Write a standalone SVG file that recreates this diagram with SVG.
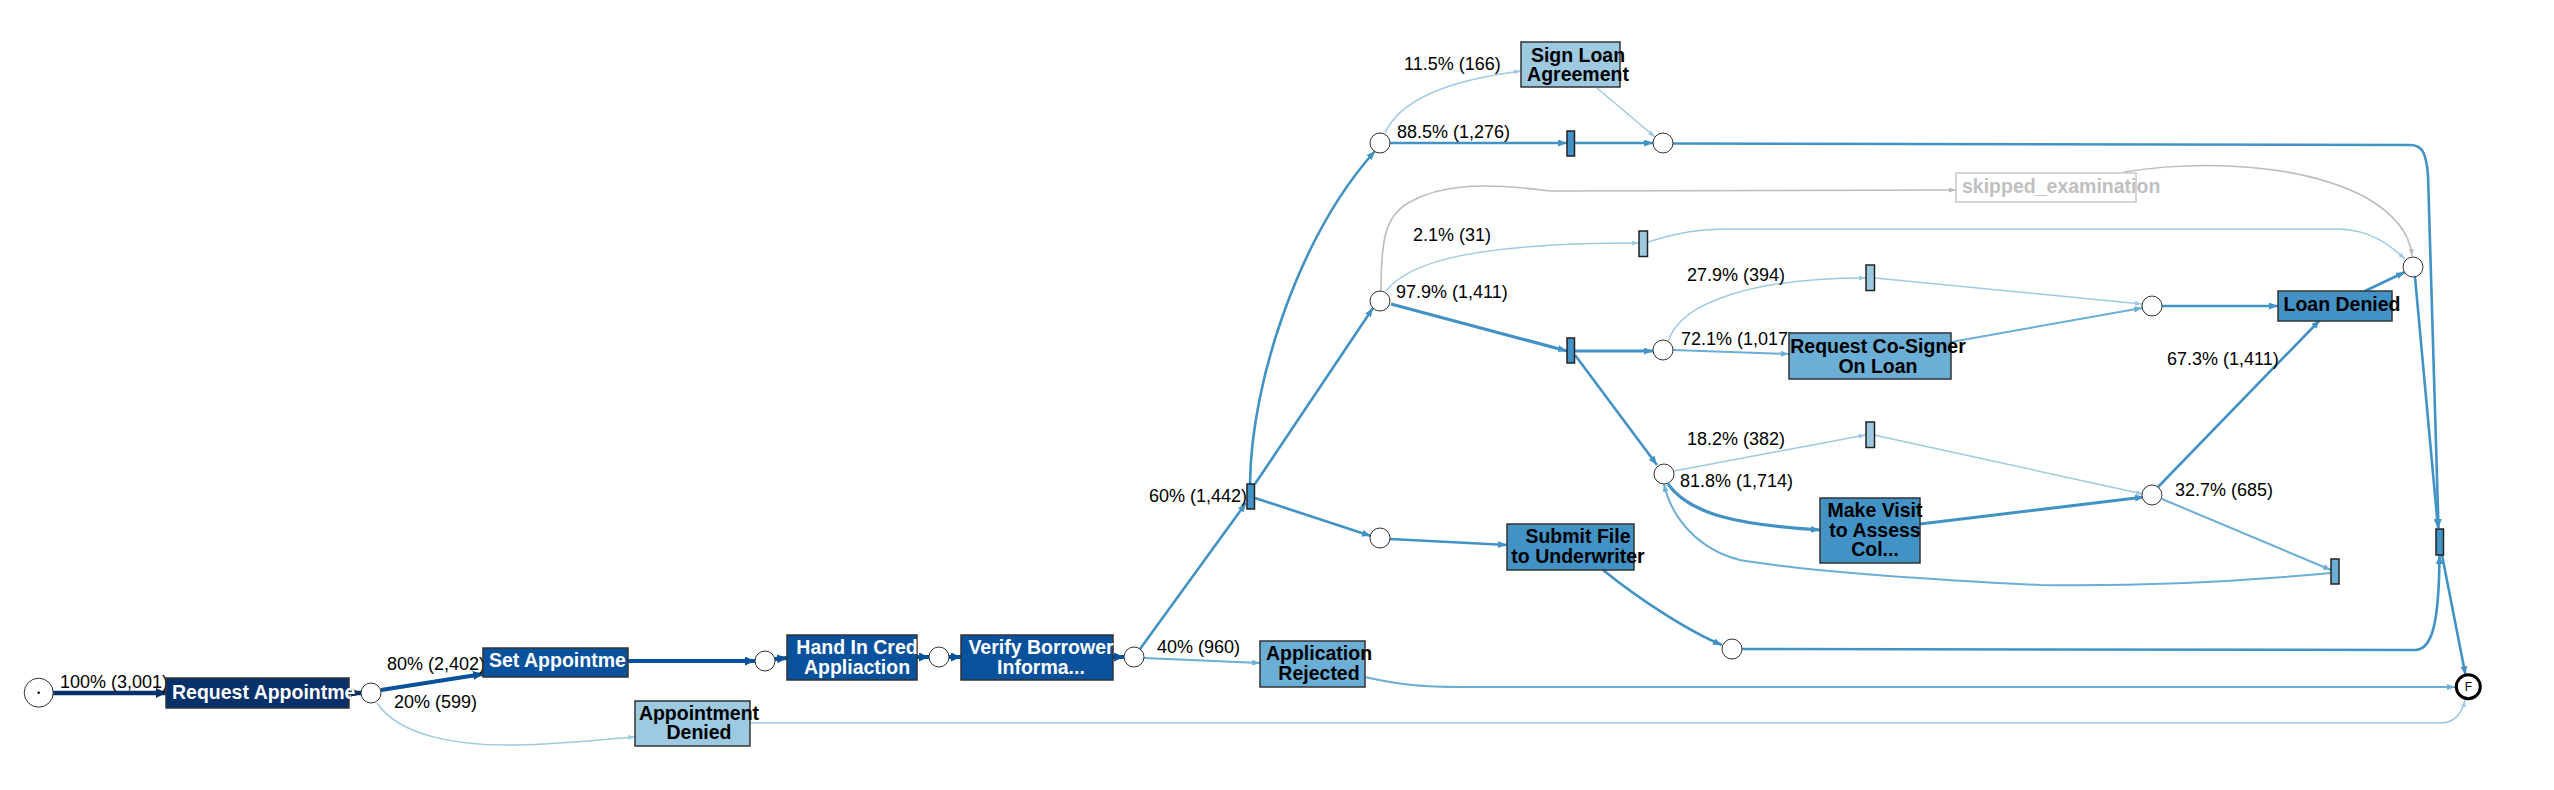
<svg xmlns="http://www.w3.org/2000/svg" width="2554" height="790" viewBox="0 0 2554 790">
<style>
.bg{fill:#fff}
.e{fill:none;stroke-linecap:butt}
.navy{stroke:#08306b;stroke-width:4.5}
.dark{stroke:#08519c;stroke-width:4}
.blue{stroke:#4292c6;stroke-width:2.6}
.blue3{stroke:#4292c6;stroke-width:3.2}
.med{stroke:#6baed6;stroke-width:2}
.light{stroke:#9ecae1;stroke-width:1.5}
.gray{stroke:#bdbdbd;stroke-width:1.6}
.box{stroke:#333;stroke-width:1.5}
.tr{stroke:#222;stroke-width:1.5}
.pl{fill:#fff;stroke:#333;stroke-width:1}
.nt{font-family:"Liberation Sans",Arial,Helvetica,sans-serif;font-weight:bold;font-size:19.5px;text-anchor:middle}
.w{fill:#fff}
.k{fill:#000}
.lbl{font-family:"Liberation Sans",Arial,Helvetica,sans-serif;font-size:18px;fill:#000}
</style>
<defs>
<marker id="aNavy" viewBox="0 0 10 10" refX="10" refY="5" markerWidth="10" markerHeight="10" markerUnits="userSpaceOnUse" orient="auto"><path d="M0,0 L10,5 L0,10 z" fill="#08306b"/></marker>
<marker id="aDark" viewBox="0 0 10 9" refX="10" refY="4.5" markerWidth="10" markerHeight="9" markerUnits="userSpaceOnUse" orient="auto"><path d="M0,0 L10,4.5 L0,9 z" fill="#08519c"/></marker>
<marker id="aBlue" viewBox="0 0 9 7" refX="9" refY="3.5" markerWidth="9" markerHeight="7" markerUnits="userSpaceOnUse" orient="auto"><path d="M0,0 L9,3.5 L0,7 z" fill="#4292c6"/></marker>
<marker id="aMed" viewBox="0 0 8 6" refX="8" refY="3" markerWidth="8" markerHeight="6" markerUnits="userSpaceOnUse" orient="auto"><path d="M0,0 L8,3 L0,6 z" fill="#6baed6"/></marker>
<marker id="aLight" viewBox="0 0 7 5" refX="7" refY="2.5" markerWidth="7" markerHeight="5" markerUnits="userSpaceOnUse" orient="auto"><path d="M0,0 L7,2.5 L0,5 z" fill="#9ecae1"/></marker>
<marker id="aGray" viewBox="0 0 7 5" refX="7" refY="2.5" markerWidth="7" markerHeight="5" markerUnits="userSpaceOnUse" orient="auto"><path d="M0,0 L7,2.5 L0,5 z" fill="#bdbdbd"/></marker>
</defs>
<rect class="bg" x="0" y="0" width="2554" height="790"/>

<g id="connectors">
<path class="e navy" d="M53,693 L166,693" marker-end="url(#aNavy)"/>
<path class="e navy" d="M349,693 L361,693" marker-end="url(#aNavy)"/>
<path class="e dark" d="M381,690 L483,674" marker-end="url(#aDark)"/>
<path class="e light" d="M377,703 C400,737 460,746 515,745 C565,744 605,739 635,737" marker-end="url(#aLight)"/>
<path class="e dark" d="M628,661 L755,661" marker-end="url(#aDark)"/>
<path class="e dark" d="M775,659 L787,658" marker-end="url(#aDark)"/>
<path class="e dark" d="M917,657 L929,657" marker-end="url(#aDark)"/>
<path class="e dark" d="M949,657 L961,657" marker-end="url(#aDark)"/>
<path class="e dark" d="M1113,657 L1124,657" marker-end="url(#aDark)"/>
<path class="e blue" d="M1140,649 L1246,503" marker-end="url(#aBlue)"/>
<path class="e med" d="M1144,658 L1260,663" marker-end="url(#aMed)"/>
<path class="e med" d="M1365,677 C1400,685 1425,687 1460,687 L2455,687" marker-end="url(#aMed)"/>
<path class="e light" d="M750,723 L2440,723 C2455,723 2462,713 2465,700" marker-end="url(#aLight)"/>
<path class="e blue" d="M1250,484 C1251,380 1300,235 1375,151" marker-end="url(#aBlue)"/>
<path class="e blue" d="M1255,484 L1373,308" marker-end="url(#aBlue)"/>
<path class="e blue" d="M1255,498 L1371,536" marker-end="url(#aBlue)"/>
<path class="e blue" d="M1390,539 L1507,545" marker-end="url(#aBlue)"/>
<path class="e blue" d="M1603,570 C1640,600 1690,632 1722,645" marker-end="url(#aBlue)"/>
<path class="e blue" d="M1742,649 L2415,650 C2433,650 2439,620 2439.5,555" marker-end="url(#aBlue)"/>
<path class="e blue" d="M2442,555 L2465.5,675" marker-end="url(#aBlue)"/>
<path class="e blue" d="M1390,143 L1567,143" marker-end="url(#aBlue)"/>
<path class="e blue" d="M1574,143 L1653,143" marker-end="url(#aBlue)"/>
<path class="e light" d="M1385,133 C1400,100 1450,80 1521,71" marker-end="url(#aLight)"/>
<path class="e light" d="M1597,88 L1655,137" marker-end="url(#aLight)"/>
<path class="e blue" d="M1673,143.5 L2410,145 C2422,145 2426,152 2428,175 L2438.5,528" marker-end="url(#aBlue)"/>
<path class="e gray" d="M1381,291 C1381,240 1385,215 1410,202 C1440,185 1480,182 1550,191 L1956,190" marker-end="url(#aGray)"/>
<path class="e gray" d="M2124,172 C2200,160 2300,163 2365,197 C2395,214 2410,235 2412,256" marker-end="url(#aGray)"/>
<path class="e light" d="M1386,291 C1410,260 1480,243 1639,243" marker-end="url(#aLight)"/>
<path class="e light" d="M1648,242 C1680,232 1700,229 1730,229 L2340,229 C2370,230 2390,245 2405,259" marker-end="url(#aLight)"/>
<path class="e blue3" d="M1391,304 L1567,351" marker-end="url(#aBlue)"/>
<path class="e blue3" d="M1575,351 L1653,351" marker-end="url(#aBlue)"/>
<path class="e blue" d="M1575,355 L1657,465" marker-end="url(#aBlue)"/>
<path class="e light" d="M1668,342 C1680,300 1760,278 1866,278" marker-end="url(#aLight)"/>
<path class="e light" d="M1875,278 L2142,304" marker-end="url(#aLight)"/>
<path class="e med" d="M1673,350 L1789,354" marker-end="url(#aMed)"/>
<path class="e med" d="M1951,342 L2142,308" marker-end="url(#aMed)"/>
<path class="e blue" d="M2162,306 L2278,306" marker-end="url(#aBlue)"/>
<path class="e blue" d="M2365,291 L2405,272" marker-end="url(#aBlue)"/>
<path class="e blue" d="M2415,277 L2438,528" marker-end="url(#aBlue)"/>
<path class="e light" d="M1674,471 L1865.5,435" marker-end="url(#aLight)"/>
<path class="e light" d="M1874,435 L2143,494" marker-end="url(#aLight)"/>
<path class="e blue3" d="M1668,484 C1690,515 1740,525 1820,530" marker-end="url(#aBlue)"/>
<path class="e blue3" d="M1920,524 L2144,497" marker-end="url(#aBlue)"/>
<path class="e blue" d="M2158,487 L2320,320" marker-end="url(#aBlue)"/>
<path class="e med" d="M2162,499 L2331,570" marker-end="url(#aMed)"/>
<path class="e med" d="M2331,573 C2200,585 2100,586 2040,585 C1900,578 1800,570 1740,560 C1700,550 1672,520 1664,484" marker-end="url(#aMed)"/>
</g>

<g id="edge-labels">
<text class="lbl" x="60" y="688">100% (3,001)</text>
<text class="lbl" x="387" y="670">80% (2,402)</text>
<text class="lbl" x="394" y="708">20% (599)</text>
<text class="lbl" x="1157" y="653">40% (960)</text>
<text class="lbl" x="1247" y="502" text-anchor="end">60% (1,442)</text>
<text class="lbl" x="1404" y="70">11.5% (166)</text>
<text class="lbl" x="1397" y="138">88.5% (1,276)</text>
<text class="lbl" x="1413" y="241">2.1% (31)</text>
<text class="lbl" x="1396" y="298">97.9% (1,411)</text>
<text class="lbl" x="1687" y="281">27.9% (394)</text>
<text class="lbl" x="1681" y="345">72.1% (1,017)</text>
<text class="lbl" x="1687" y="445">18.2% (382)</text>
<text class="lbl" x="1680" y="487">81.8% (1,714)</text>
<text class="lbl" x="2167" y="365">67.3% (1,411)</text>
<text class="lbl" x="2175" y="496">32.7% (685)</text>
</g>

<g id="start"><circle class="pl" cx="38.7" cy="692.7" r="14.5"/><circle cx="38.7" cy="692.7" r="1.2" fill="#000"/></g>
<g id="end"><circle cx="2468.3" cy="686.7" r="12" fill="#fff" stroke="#000" stroke-width="3"/><text x="2468.3" y="691" font-family="Liberation Sans, Arial, sans-serif" font-size="12" text-anchor="middle" fill="#000">F</text></g>

<g id="places">
<circle id="p1" class="pl" cx="371" cy="693" r="10"/>
<circle id="p2" class="pl" cx="765" cy="661" r="10"/>
<circle id="p3" class="pl" cx="939" cy="657" r="10"/>
<circle id="p4" class="pl" cx="1134" cy="657" r="10"/>
<circle id="p5" class="pl" cx="1380" cy="143" r="10"/>
<circle id="p6" class="pl" cx="1663" cy="143" r="10"/>
<circle id="p7" class="pl" cx="1380" cy="301" r="10"/>
<circle id="p8" class="pl" cx="1380" cy="538" r="10"/>
<circle id="p9" class="pl" cx="1663" cy="350" r="10"/>
<circle id="p10" class="pl" cx="1664" cy="474" r="10"/>
<circle id="p11" class="pl" cx="2152" cy="306" r="10"/>
<circle id="p12" class="pl" cx="2413" cy="267" r="10"/>
<circle id="p13" class="pl" cx="2152" cy="495" r="10"/>
<circle id="p14" class="pl" cx="1732" cy="649" r="10"/>
</g>

<g id="transitions">
<rect id="t60" class="tr" x="1247" y="484" width="7.5" height="25" fill="#4292c6"/>
<rect id="t88" class="tr" x="1567" y="131" width="7.5" height="25" fill="#4292c6"/>
<rect id="t21" class="tr" x="1639" y="231" width="8.5" height="25.5" fill="#9ecae1"/>
<rect id="t97" class="tr" x="1567" y="338" width="7.5" height="25" fill="#4292c6"/>
<rect id="t27" class="tr" x="1866" y="265" width="8.5" height="25.5" fill="#9ecae1"/>
<rect id="t18" class="tr" x="1866" y="422" width="8.5" height="25.5" fill="#9ecae1"/>
<rect id="t32" class="tr" x="2331" y="559" width="8" height="25" fill="#6baed6"/>
<rect id="tend" class="tr" x="2436" y="529" width="7.5" height="26" fill="#4292c6"/>
</g>

<g id="request-appointment"><rect class="box" x="166" y="678" width="183" height="30" fill="#08306b"/><text class="nt w" x="172" y="698.5" text-anchor="start" style="text-anchor:start">Request Appointme</text></g>
<g id="set-appointment"><rect class="box" x="483" y="648" width="145" height="29" fill="#08519c"/><text class="nt w" x="489" y="667" style="text-anchor:start">Set Appointme</text></g>
<g id="hand-in"><rect class="box" x="787" y="635" width="130" height="45" fill="#08519c"/><text class="nt w" x="857" y="654">Hand In Cred</text><text class="nt w" x="857" y="674">Appliaction</text></g>
<g id="verify"><rect class="box" x="961" y="635" width="152" height="45" fill="#08519c"/><text class="nt w" x="1041" y="654">Verify Borrower</text><text class="nt w" x="1041" y="674">Informa...</text></g>
<g id="appointment-denied"><rect class="box" x="635" y="701" width="115" height="45" fill="#9ecae1"/><text class="nt k" x="699" y="720">Appointment</text><text class="nt k" x="699" y="739">Denied</text></g>
<g id="application-rejected"><rect class="box" x="1260" y="641" width="105" height="46" fill="#6baed6"/><text class="nt k" x="1319" y="660">Application</text><text class="nt k" x="1319" y="680">Rejected</text></g>
<g id="submit-file"><rect class="box" x="1507" y="524" width="127" height="46" fill="#4292c6"/><text class="nt k" x="1578" y="543">Submit File</text><text class="nt k" x="1578" y="563">to Underwriter</text></g>
<g id="make-visit"><rect class="box" x="1820" y="498" width="100" height="65" fill="#4292c6"/><text class="nt k" x="1875" y="517">Make Visit</text><text class="nt k" x="1875" y="537">to Assess</text><text class="nt k" x="1875" y="556">Col...</text></g>
<g id="request-cosigner"><rect class="box" x="1789" y="333" width="162" height="46" fill="#6baed6"/><text class="nt k" x="1878" y="353">Request Co-Signer</text><text class="nt k" x="1878" y="373">On Loan</text></g>
<g id="loan-denied"><rect class="box" x="2278" y="291" width="114" height="30" fill="#4292c6"/><text class="nt k" x="2342" y="311">Loan Denied</text></g>
<g id="sign-loan"><rect class="box" x="1521" y="42" width="99" height="45" fill="#9ecae1"/><text class="nt k" x="1578" y="62">Sign Loan</text><text class="nt k" x="1578" y="81">Agreement</text></g>
<g id="skipped-examination"><rect x="1956" y="173" width="180" height="29" fill="#fff" stroke="#c8c8c8" stroke-width="1.5"/><text class="nt" x="1962" y="193" fill="#c0c0c0" style="text-anchor:start">skipped_examination</text></g>
</svg>
